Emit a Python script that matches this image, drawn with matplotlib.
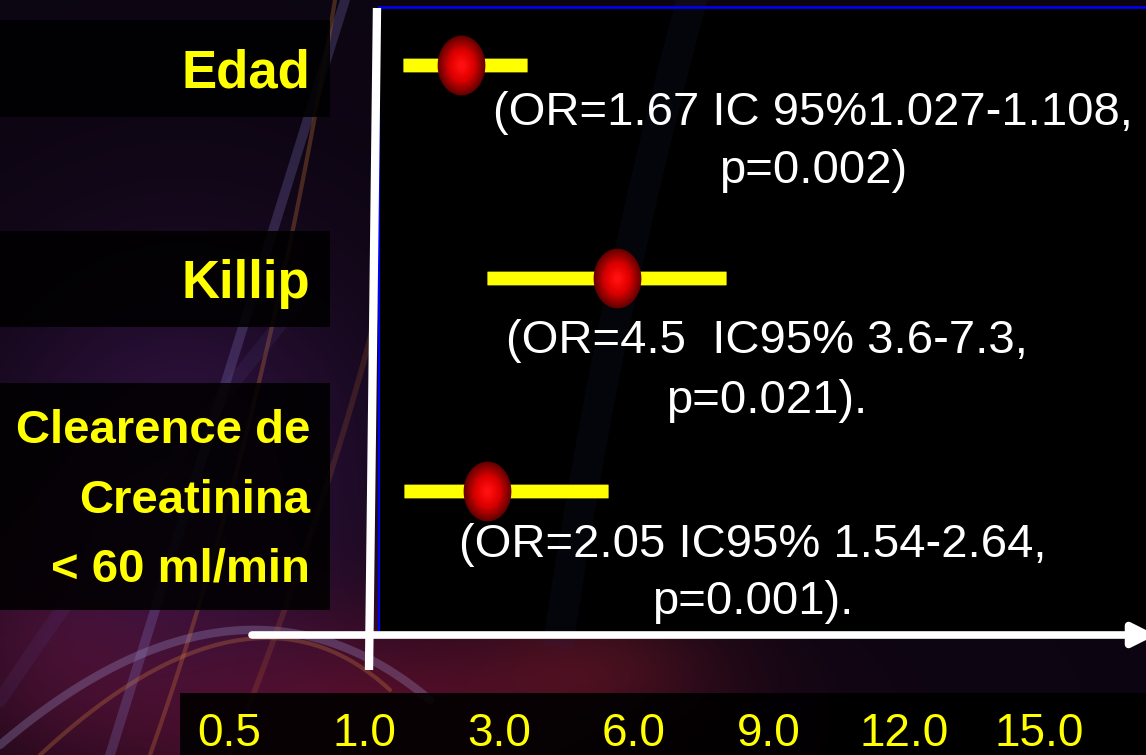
import numpy as np
import matplotlib
matplotlib.use("Agg")
import matplotlib.pyplot as plt
from matplotlib.path import Path
from matplotlib.patches import Rectangle
import matplotlib.patheffects as pe

plt.rcParams["font.family"] = ["Liberation Sans", "DejaVu Sans"]

# data
variables = [["Edad"], ["Killip"], ["Clearence de", "Creatinina", "< 60 ml/min"]]
or_point = [2.43, 5.62, 2.82]
ci_low = [1.58, 2.82, 1.59]
ci_high = [3.62, 8.05, 5.42]
annotations = [
    ["(OR=1.67 IC 95%1.027-1.108,", "p=0.002)"],
    ["(OR=4.5  IC95% 3.6-7.3,", "p=0.021)."],
    ["(OR=2.05 IC95% 1.54-2.64,", "p=0.001)."],
]
tick_vals = [0.5, 1.0, 3.0, 6.0, 9.0, 12.0, 15.0]
tick_labels = ["0.5", "1.0", "3.0", "6.0", "9.0", "12.0", "15.0"]

W, H = 1146, 755
fig = plt.figure(figsize=(W / 100, H / 100), dpi=100)

# background in pixel coordinates
bg = fig.add_axes([0, 0, 1, 1])
bg.set_xlim(0, W)
bg.set_ylim(H, 0)
bg.axis("off")

gy, gx = np.mgrid[0:H:5, 0:W:5]


def glow(cx, cy, sx, sy):
    return np.exp(-(((gx - cx) / sx) ** 2 + ((gy - cy) / sy) ** 2))


img = np.zeros(gx.shape + (3,))
img[:] = [0.05, 0.02, 0.07]
img += glow(180, 480, 200, 220)[..., None] * np.array([0.14, 0.05, 0.18])
img += glow(380, 720, 300, 110)[..., None] * np.array([0.26, 0.03, 0.07])
img += glow(40, 640, 120, 120)[..., None] * np.array([0.12, 0.02, 0.05])
img += glow(600, 660, 120, 60)[..., None] * np.array([0.12, 0.03, 0.02])
bg.imshow(np.clip(img, 0, 1), extent=(0, W, H, 0), aspect="auto", interpolation="bilinear", zorder=0)


def bez(p0, p1, p2, n=80):
    t = np.linspace(0, 1, n)[:, None]
    p0, p1, p2 = map(np.array, (p0, p1, p2))
    pts = (1 - t) ** 2 * p0 + 2 * (1 - t) * t * p1 + t ** 2 * p2
    return pts[:, 0], pts[:, 1]


swirls = [
    ((110, 755), (220, 400), (345, 0), "#8a80d0", 7, 0.25),
    ((150, 755), (265, 430), (335, 0), "#d07a3a", 3, 0.30),
    ((0, 745), (240, 540), (430, 700), "#a098d0", 6, 0.30),
    ((40, 755), (250, 560), (390, 690), "#d08040", 3, 0.30),
    ((0, 700), (120, 520), (300, 300), "#6050a0", 10, 0.12),
    ((230, 755), (330, 500), (380, 300), "#c06830", 4, 0.2),
]
for p0, p1, p2, c, lw, a in swirls:
    xs, ys = bez(p0, p1, p2)
    bg.plot(xs, ys, color=c, lw=lw, alpha=a, solid_capstyle="round", zorder=1)

# plot area and boxes
bg.add_patch(Rectangle((379, 7), W - 379, 625, facecolor="black", edgecolor="none", zorder=2))
xs, ys = bez((560, 632), (610, 300), (690, 7))
bg.plot(xs, ys, color="#2a3070", lw=22, alpha=0.10, zorder=2)
bg.plot([379, W], [7, 7], color="#0000ff", lw=1.8, zorder=3)
bg.plot([379, 379], [7, 632], color="#0000ff", lw=1.5, zorder=3)
for y0, y1 in [(20, 117), (231, 327), (383, 610)]:
    bg.add_patch(Rectangle((0, y0), 330, y1 - y0, facecolor="black", alpha=0.88, edgecolor="none", zorder=2))
bg.add_patch(Rectangle((180, 693), W - 180, H - 693, facecolor="black", alpha=0.9, edgecolor="none", zorder=2))

# OR = 1 line and x arrow
bg.plot([377, 369], [8, 670], color="white", lw=6, solid_capstyle="butt", zorder=4)
bg.annotate("", xy=(W + 10, 635), xytext=(252, 635), annotation_clip=False,
            arrowprops=dict(arrowstyle="-|>", color="white", lw=5.5, mutation_scale=34,
                            shrinkA=0, shrinkB=0), zorder=4)

# variable names
label_baselines = [[87], [298], [443, 513, 582]]
label_sizes = [38, 38, 34]
for lines, bases, fs in zip(variables, label_baselines, label_sizes):
    for line, yb in zip(lines, bases):
        bg.text(310, yb, line, color="#ffff00", fontsize=fs, fontweight="bold",
                ha="right", va="baseline", zorder=5)

# OR annotations
ann_x = [813, 767, 753]
ann_baselines = [[125, 183], [353, 413], [557, 614]]
for lines, xc, bases in zip(annotations, ann_x, ann_baselines):
    for line, yb in zip(lines, bases):
        bg.text(xc, yb, line, color="white", fontsize=34, ha="center", va="baseline", zorder=5)

# data axes
ax = fig.add_axes([0, 55 / H, 1, 700 / H])
ax.patch.set_alpha(0)
idx = np.arange(len(tick_vals), dtype=float)


def fwd(v):
    v = np.asarray(v, float)
    out = np.interp(v, tick_vals, idx)
    out = np.where(v < tick_vals[0], (v - tick_vals[0]) / (tick_vals[1] - tick_vals[0]), out)
    out = np.where(v > tick_vals[-1], idx[-1] + (v - tick_vals[-1]) / (tick_vals[-1] - tick_vals[-2]), out)
    return out


def inv(i):
    i = np.asarray(i, float)
    out = np.interp(i, idx, tick_vals)
    out = np.where(i < 0, tick_vals[0] + i * (tick_vals[1] - tick_vals[0]), out)
    out = np.where(i > idx[-1], tick_vals[-1] + (i - idx[-1]) * (tick_vals[-1] - tick_vals[-2]), out)
    return out


ax.set_xscale("function", functions=(fwd, inv))
ax.set_xlim(float(inv(-229.3 / 134.9)), float(inv((W - 229.3) / 134.9)))
rows = np.arange(len(or_point))
ax.set_ylim((700 - 65) / 213, -65 / 213)

ax.hlines(rows, ci_low, ci_high, color="#ffff00", lw=9.4, zorder=3,
          path_effects=[pe.Stroke(linewidth=10.6, foreground="#6a6a10"), pe.Normal()])

theta = np.linspace(0, 2 * np.pi, 60)
ellipse = Path(np.column_stack([np.cos(theta), 1.25 * np.sin(theta)]), closed=True)
n_layers = 16
edge_c = np.array([0.40, 0.0, 0.0])
mid_c = np.array([0.88, 0.0, 0.0])
core_c = np.array([1.0, 0.06, 0.06])
for k in range(n_layers):
    f = 1 - k / n_layers * 0.92
    t = k / (n_layers - 1)
    c = edge_c + (mid_c - edge_c) * min(t * 1.8, 1) + (core_c - mid_c) * max(t - 0.6, 0) / 0.4
    ax.plot(or_point, rows, ls="none", marker=ellipse, markersize=43 * f,
            color=np.clip(c, 0, 1), mew=0, zorder=4 + k * 0.01)

ax.set_xticks(tick_vals)
ax.set_xticklabels(tick_labels)
ax.xaxis.set_minor_locator(matplotlib.ticker.NullLocator())
ax.tick_params(axis="x", length=0, pad=9, labelsize=33, labelcolor="#ffff00")
ax.set_yticks([])
for s in ax.spines.values():
    s.set_visible(False)

fig.savefig("out.png", dpi=100, facecolor="black")
